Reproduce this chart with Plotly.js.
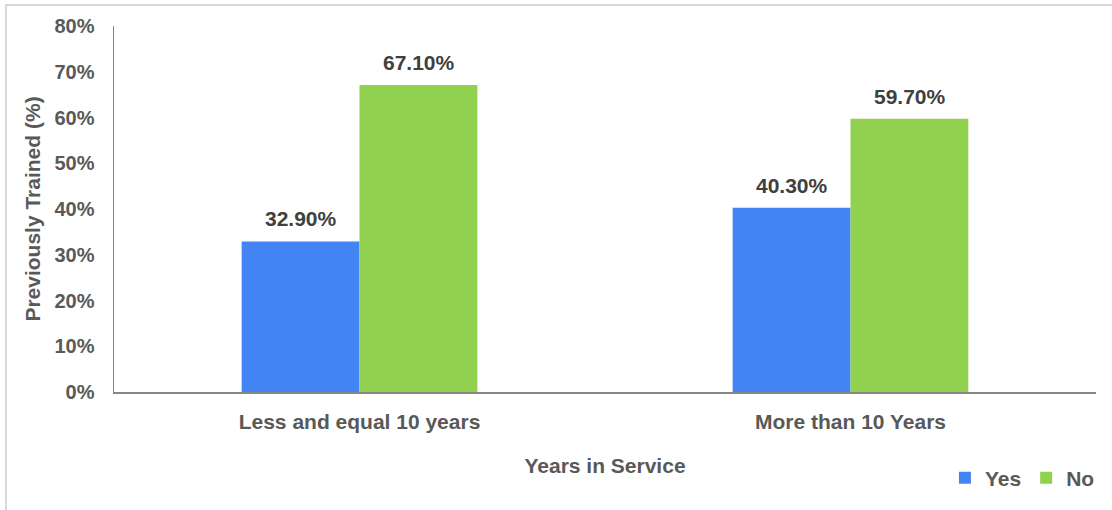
<!DOCTYPE html>
<html><head><meta charset="utf-8">
<script src="https://cdn.plot.ly/plotly-3.0.1.min.js"></script>
<style>
html,body{margin:0;padding:0;background:#fff;}
#frame{position:absolute;left:5px;top:4px;width:1107px;height:506px;border-left:2px solid #d9d9d9;border-top:2px solid #d9d9d9;box-sizing:border-box;}
#chart{position:absolute;left:0;top:0;width:1112px;height:510px;}
</style></head>
<body>
<div id="frame"></div>
<div id="chart"></div>
<script>
var categories = ["Less and equal 10 years", "More than 10 Years"];
var yesValues = [32.9, 40.3];
var noValues = [67.1, 59.7];
var seriesNames = ["Yes", "No"];
var tickVals = [0,10,20,30,40,50,60,70,80];
var tickText = ["0%","10%","20%","30%","40%","50%","60%","70%","80%"];

var font = "Liberation Sans, Arial, sans-serif";
var traces = [
  {type:"bar", name:seriesNames[0], x:categories, y:yesValues, marker:{color:"#4384F4"}, hoverinfo:"none"},
  {type:"bar", name:seriesNames[1], x:categories, y:noValues, marker:{color:"#92D050"}, hoverinfo:"none"}
];
var annotations = [];
[yesValues, noValues].forEach(function(vals, si){
  vals.forEach(function(v, ci){
    annotations.push({x:categories[ci], y:v, xref:"x", yref:"y", text:"<b>"+v.toFixed(2)+"%</b>",
      showarrow:false, yanchor:"bottom", yshift:9, xshift: si===0 ? -59 : 59,
      font:{family:font, size:21, color:"#404040"}});
  });
});
var layout = {
  width:1112, height:510,
  margin:{l:114, r:12, t:26, b:114},
  paper_bgcolor:"rgba(0,0,0,0)", plot_bgcolor:"rgba(0,0,0,0)",
  barmode:"group", bargap:0.52, bargroupgap:0,
  font:{family:font, color:"#595959"},
  xaxis:{showline:true, linecolor:"#868686", linewidth:1.5, showgrid:false, ticks:"", ticklabelstandoff:10,
    tickfont:{family:font, size:21, color:"#595959", weight:"bold"},
    title:{text:"<b>Years in Service</b>", font:{family:font, size:21, color:"#595959"}, standoff:26}},
  yaxis:{range:[0,80], showline:true, linecolor:"#868686", linewidth:1.5, showgrid:false, zeroline:false,
    tickvals:tickVals, ticktext:tickText, ticks:"", ticklabelstandoff:14,
    tickfont:{family:font, size:20, color:"#595959", weight:"bold"},
    title:{text:"<b>Previously Trained (%)</b>", font:{family:font, size:21, color:"#595959"}, standoff:8}},
  legend:{orientation:"h", x:1.004, xanchor:"right", y:-0.235, yanchor:"middle",
    font:{family:font, size:21, color:"#595959", weight:"bold"}, itemwidth:30, tracegroupgap:0},
  annotations:annotations,
  showlegend:true
};
Plotly.newPlot("chart", traces, layout, {staticPlot:true});
</script>
</body></html>
